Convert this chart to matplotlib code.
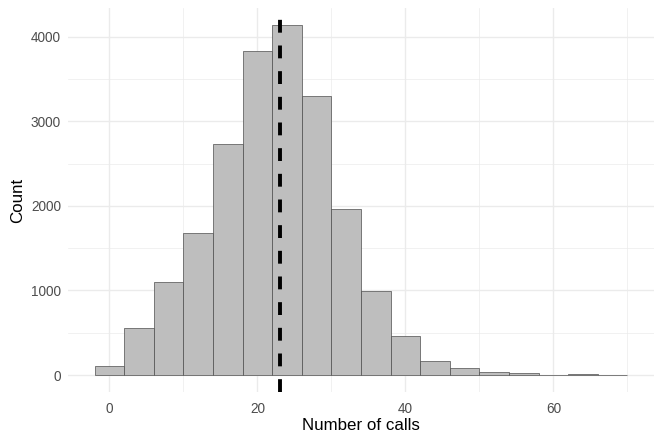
import matplotlib
matplotlib.use("Agg")
import matplotlib.pyplot as plt
from matplotlib.ticker import MultipleLocator

plt.rcParams['font.family'] = ['Liberation Sans', 'DejaVu Sans']

# histogram bins (width 4, centred on multiples of 4)
bin_centers = [0, 4, 8, 12, 16, 20, 24, 28, 32, 36, 40, 44, 48, 52, 56, 60, 64, 68]
counts = [105, 555, 1098, 1680, 2735, 3825, 4132, 3298, 1960, 995, 460, 165, 79, 32, 20, 4, 8, 2]
bin_width = 4
mean_calls = 23.0

x_ticks = [0, 20, 40, 60]
y_ticks = [0, 1000, 2000, 3000, 4000]

fig = plt.figure(figsize=(6.64, 4.43), dpi=100)
ax = fig.add_axes([0.1024, 0.114, 0.8826, 0.868])

ax.bar(bin_centers, counts, width=bin_width, color='#BEBEBE',
       edgecolor='#4D4D4D', linewidth=0.5, zorder=2)
ax.axvline(mean_calls, color='black', linewidth=2.8, linestyle=(0, (3.3, 3.3)), zorder=3)

lo = min(bin_centers) - bin_width / 2
hi = max(bin_centers) + bin_width / 2
xpad = (hi - lo) * 0.05
ax.set_xlim(lo - xpad, hi + xpad)
ypad = max(counts) * 0.05
ax.set_ylim(-ypad, max(counts) + ypad)

ax.set_xticks(x_ticks)
ax.set_yticks(y_ticks)
ax.xaxis.set_minor_locator(MultipleLocator(10))
ax.yaxis.set_minor_locator(MultipleLocator(500))

ax.grid(which='major', color='#EBEBEB', linewidth=1.0, zorder=0)
ax.grid(which='minor', color='#EBEBEB', linewidth=0.5, zorder=0)
ax.set_axisbelow(True)
for s in ax.spines.values():
    s.set_visible(False)
ax.tick_params(which='both', length=0, labelsize=9.8, labelcolor='#4D4D4D')
ax.tick_params(axis='x', pad=6.5)
ax.tick_params(axis='y', pad=5)

ax.set_xlabel('Number of calls', fontsize=12.2, color='black', labelpad=2)
ax.set_ylabel('Count', fontsize=12.2, color='black', labelpad=4)

fig.savefig('out.png', dpi=100)
